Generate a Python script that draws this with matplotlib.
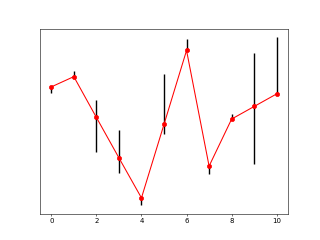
import matplotlib
matplotlib.use('Agg')
import matplotlib.pyplot as plt
import numpy as np

x = np.arange(11)
y = [4.02, 4.33, 3.10, 1.88, 0.67, 2.89, 5.12, 1.63, 3.05, 3.43, 3.81]
err_lower = [0.17, 0.0, 1.05, 0.45, 0.22, 0.29, 0.0, 0.25, 0.0, 1.73, 0.0]
err_upper = [0.0, 0.17, 0.52, 0.85, 0.0, 1.51, 0.36, 0.0, 0.15, 1.61, 1.71]

fig, ax = plt.subplots(figsize=(6.4, 4.8), dpi=50)
ax.errorbar(x, y, yerr=[err_lower, err_upper], color='r', marker='o',
            ecolor='k', elinewidth=2)
ax.set_yticks([])

plt.savefig('out.png', dpi=50)
